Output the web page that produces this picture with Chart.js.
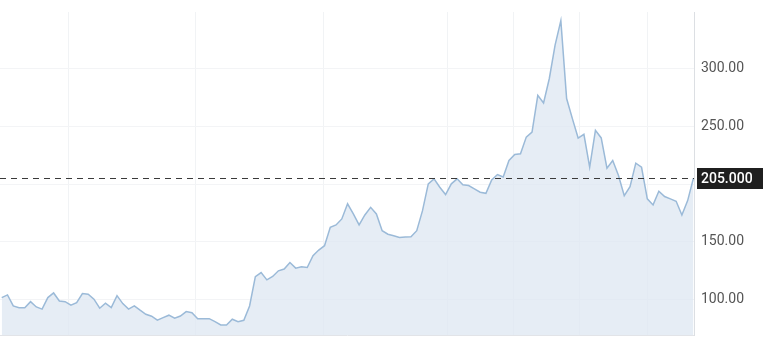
<!DOCTYPE html>
<html>
<head>
<meta charset="utf-8">
<script src="https://cdn.jsdelivr.net/npm/chart.js@4/dist/chart.umd.min.js"></script>
<style>
  html, body { margin: 0; padding: 0; background: #fff; }
  #wrap { width: 769px; height: 339px; }
</style>
</head>
<body>
<div id="wrap"><canvas id="priceChart"></canvas></div>
<script>
// weekly closes
const prices = [
  102, 104.3, 94.8, 93.3, 93.3, 98.5, 93.9, 92, 102, 106,
  99.1, 98.5, 95.4, 97.7, 105.5, 104.9, 100.6, 92.8, 97.1, 93.3,
  103.7, 96.8, 92, 94.8, 91.1, 87.6, 85.9, 82.5, 84.7, 86.8,
  84.2, 86.1, 89.9, 89, 83.8, 83.8, 83.8, 81.2, 78.4, 78.4,
  83.3, 81.2, 82.4, 94.8, 120, 123.6, 117.3, 120.2, 125.1, 126.6,
  132.3, 127.4, 128.6, 128, 138.1, 143, 146.8, 162.6, 164.7, 169.9,
  182.9, 174.2, 164.7, 173.3, 179.9, 174.2, 159.7, 156.7, 155.4, 153.9,
  154.3, 154.5, 159.7, 177, 200.2, 204.5, 197.2, 190.9, 200.2, 204.5,
  199.3, 198.7, 195.8, 192.9, 192, 203.6, 208.2, 206.1, 220.3, 225.5,
  226.1, 240.5, 244.8, 276.6, 270, 291.1, 319.9, 341, 273.8, 256.5,
  239.7, 242.9, 214.5, 246.3, 239.8, 213.7, 220.3, 207.4, 190, 197.8,
  218, 214.5, 187.2, 182, 193.8, 189.2, 187.2, 185.1, 173.3, 185.7,
  205
];
const lastPrice = 205;
const yTicks = [100, 150, 200, 250, 300];
// period boundaries (in week index) where the vertical grid lines sit
const periodMarks = [11.5, 33.7, 55.9, 77.3, 88.7, 100.3, 112];

const points = prices.map((v, i) => ({ x: i, y: v }));

// dashed line for the last price plus the black price tag
const lastPriceLine = {
  id: 'lastPriceLine',
  afterDraw(chart) {
    const ctx = chart.ctx;
    const area = chart.chartArea;
    const y = Math.round(chart.scales.y.getPixelForValue(lastPrice)) + 0.5;
    ctx.save();
    ctx.strokeStyle = '#3a3a3a';
    ctx.lineWidth = 1;
    ctx.setLineDash([6, 5]);
    ctx.beginPath();
    ctx.moveTo(area.left, y);
    ctx.lineTo(area.right, y);
    ctx.stroke();
    ctx.setLineDash([]);
    ctx.fillStyle = '#1f1f1f';
    ctx.fillRect(area.right + 3, y - 10.5, 66, 21);
    ctx.fillStyle = '#fff';
    ctx.font = '500 14px Roboto';
    ctx.textBaseline = 'middle';
    ctx.textAlign = 'left';
    ctx.fillText(lastPrice.toFixed(3), area.right + 7, y + 1);
    ctx.restore();
  }
};

function noEdgePadding(axis) {
  axis.paddingTop = 0;
  axis.paddingBottom = 0;
  axis.paddingLeft = 0;
  axis.paddingRight = 0;
}

new Chart(document.getElementById('priceChart'), {
  type: 'line',
  data: {
    datasets: [{
      data: points,
      borderColor: '#9bbad8',
      borderWidth: 1.5,
      backgroundColor: 'rgba(222,231,242,0.75)',
      fill: 'start',
      pointRadius: 0,
      tension: 0
    }]
  },
  options: {
    responsive: true,
    maintainAspectRatio: false,
    animation: false,
    events: [],
    layout: { padding: { top: 12, bottom: 4, left: 0, right: 0 } },
    plugins: {
      legend: { display: false },
      tooltip: { enabled: false }
    },
    scales: {
      x: {
        type: 'linear',
        min: -0.3,
        max: prices.length - 1 + 0.1,
        afterBuildTicks(axis) {
          axis.ticks = periodMarks.map(v => ({ value: v }));
        },
        afterFit(axis) {
          axis.height = 0;
          noEdgePadding(axis);
        },
        ticks: { display: false },
        grid: { color: '#f1f3f5', drawTicks: false },
        border: { color: '#e2e4e8' }
      },
      y: {
        position: 'right',
        min: 69.7,
        max: 348.5,
        afterBuildTicks(axis) {
          axis.ticks = yTicks.map(v => ({ value: v }));
        },
        afterFit(axis) {
          axis.width = 75;
          noEdgePadding(axis);
        },
        ticks: {
          color: '#555',
          font: { family: 'Roboto', size: 14 },
          padding: 7,
          callback: v => v.toFixed(2)
        },
        grid: { color: '#f3f4f6', drawTicks: false },
        border: { color: '#dcdfe3' }
      }
    }
  },
  plugins: [lastPriceLine]
});
</script>
</body>
</html>
